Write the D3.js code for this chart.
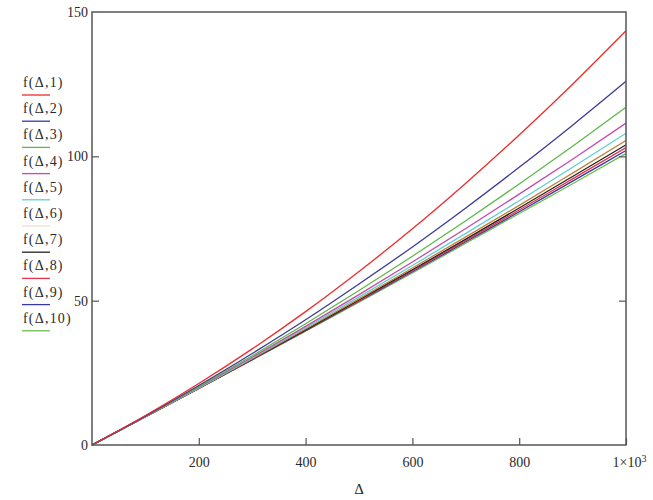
<!DOCTYPE html>
<html>
<head>
<meta charset="utf-8">
<script src="https://cdn.jsdelivr.net/npm/d3@7"></script>
<style>
  html, body { margin: 0; padding: 0; background: #fff; }
  svg { display: block; }
  text { font-family: "Liberation Serif", "DejaVu Serif", serif; }
</style>
</head>
<body>
<svg id="chart" width="653" height="500"></svg>
<script>
// ---- data ----
const deltaValues = [0, 100, 200, 300, 400, 500, 600, 700, 800, 900, 1000];
const f1  = [0, 10.2, 21.3, 33.3, 46.2, 60.1, 74.9, 90.7, 107.4, 125.0, 143.5];
const f2  = [0, 10.0, 20.6, 31.7, 43.4, 55.8, 68.6, 82.1, 96.2, 110.8, 126.0];
const f3  = [0, 9.9, 20.2, 30.9, 42.0, 53.5, 65.4, 77.7, 90.4, 103.5, 117.0];
const f4  = [0, 9.8, 20.0, 30.4, 41.1, 52.1, 63.4, 75.0, 86.9, 99.0, 111.5];
const f5  = [0, 9.8, 19.8, 30.1, 40.6, 51.3, 62.2, 73.3, 84.6, 96.2, 108.0];
const f6  = [0, 9.8, 19.7, 29.9, 40.2, 50.6, 61.3, 72.1, 83.0, 94.2, 105.5];
const f7  = [0, 9.8, 19.7, 29.7, 39.9, 50.3, 60.7, 71.3, 82.1, 93.0, 104.0];
const f8  = [0, 9.8, 19.6, 29.6, 39.8, 50.0, 60.4, 70.8, 81.4, 92.2, 103.0];
const f9  = [0, 9.8, 19.6, 29.6, 39.6, 49.8, 60.0, 70.4, 80.8, 91.4, 102.0];
const f10 = [0, 9.7, 19.6, 29.5, 39.4, 49.5, 59.6, 69.9, 80.2, 90.5, 101.0];
const seriesNames = ["f(\u0394,1)", "f(\u0394,2)", "f(\u0394,3)", "f(\u0394,4)", "f(\u0394,5)",
                     "f(\u0394,6)", "f(\u0394,7)", "f(\u0394,8)", "f(\u0394,9)", "f(\u0394,10)"];
const seriesValues = [f1, f2, f3, f4, f5, f6, f7, f8, f9, f10];
const seriesColors = ["#ee2b2b", "#3c3c96", "#5cb848", "#c64aa8", "#5fcfd6",
                      "#c0803a", "#222222", "#e8344a", "#3a3aa0", "#6cc050"];
const xTickValues = [200, 400, 600, 800, 1000];
const xTickLabels = ["200", "400", "600", "800", "1\u00d710"];
const yTickValues = [0, 50, 100, 150];
const yTickLabels = ["0", "50", "100", "150"];
const xAxisTitle = "\u0394";

// ---- layout ----
const svg = d3.select("#chart");
const plot = { left: 92, right: 626, top: 12, bottom: 445 };

const x = d3.scaleLinear().domain([0, 1000]).range([plot.left, plot.right]);
const y = d3.scaleLinear().domain([0, 150]).range([plot.bottom, plot.top]);

// series lines
const line = d3.line()
  .x((d, i) => x(deltaValues[i]))
  .y(d => y(d))
  .curve(d3.curveMonotoneX);

const order = [9, 8, 7, 6, 5, 4, 3, 2, 1, 0];
svg.append("g").selectAll("path")
  .data(order)
  .join("path")
  .attr("d", i => line(seriesValues[i]))
  .attr("fill", "none")
  .attr("stroke", i => seriesColors[i])
  .attr("stroke-width", 1.3);

// frame
svg.append("rect")
  .attr("x", plot.left).attr("y", plot.top)
  .attr("width", plot.right - plot.left).attr("height", plot.bottom - plot.top)
  .attr("fill", "none").attr("stroke", "#555").attr("stroke-width", 1.5);

// bottom axis (ticks inward)
const xAxis = d3.axisBottom(x)
  .tickValues(xTickValues)
  .tickSizeInner(-7).tickSizeOuter(0)
  .tickFormat((d, i) => xTickLabels[i]);
const gx = svg.append("g").attr("transform", `translate(0,${plot.bottom})`).call(xAxis);
gx.select(".domain").remove();
gx.selectAll(".tick line").attr("stroke", "#555").attr("stroke-width", 1.2);
gx.selectAll(".tick text")
  .attr("y", 12).attr("dy", "0.71em")
  .style("font-size", "14px")
  .style("font-family", "'Liberation Serif', serif")
  .attr("fill", "#2a2a2a");
// superscript on last label
gx.selectAll(".tick text").filter(d => d === 1000)
  .attr("dx", "3px")
  .append("tspan").attr("dy", "-5").style("font-size", "10px").text("3");

// left axis (ticks inward)
const yAxis = d3.axisLeft(y)
  .tickValues(yTickValues)
  .tickSizeInner(-7).tickSizeOuter(0)
  .tickFormat((d, i) => yTickLabels[i]);
const gy = svg.append("g").attr("transform", `translate(${plot.left},0)`).call(yAxis);
gy.select(".domain").remove();
gy.selectAll(".tick line").attr("stroke", "#555").attr("stroke-width", 1.2)
  .filter(d => d === 0 || d === 150).remove();
gy.selectAll(".tick text")
  .attr("x", -4)
  .style("font-size", "14px")
  .style("font-family", "'Liberation Serif', serif")
  .attr("fill", "#2a2a2a");

// right ticks (inward)
const yAxisR = d3.axisRight(y)
  .tickValues([50, 100])
  .tickSizeInner(-7).tickSizeOuter(0)
  .tickFormat("");
const gyr = svg.append("g").attr("transform", `translate(${plot.right},0)`).call(yAxisR);
gyr.select(".domain").remove();
gyr.selectAll(".tick line").attr("stroke", "#555").attr("stroke-width", 1.2);

// x axis title
svg.append("text")
  .attr("x", (plot.left + plot.right) / 2)
  .attr("y", 494)
  .attr("text-anchor", "middle")
  .attr("fill", "#2a2a2a")
  .style("font-size", "15px")
  .text(xAxisTitle);

// legend
const legend = svg.append("g");
seriesNames.forEach((name, i) => {
  const yy = 87 + i * 26.2;
  legend.append("text")
    .attr("x", 23).attr("y", yy)
    .attr("fill", "#2a2a2a")
    .style("font-size", "14px")
    .style("letter-spacing", "1.2px")
    .text(name);
  legend.append("line")
    .attr("x1", 22).attr("x2", 50)
    .attr("y1", yy + 8).attr("y2", yy + 8)
    .attr("stroke", seriesColors[i])
    .attr("stroke-width", 1.3)
    .attr("stroke-opacity", i === 5 ? 0.25 : 1);
});
</script>
</body>
</html>
